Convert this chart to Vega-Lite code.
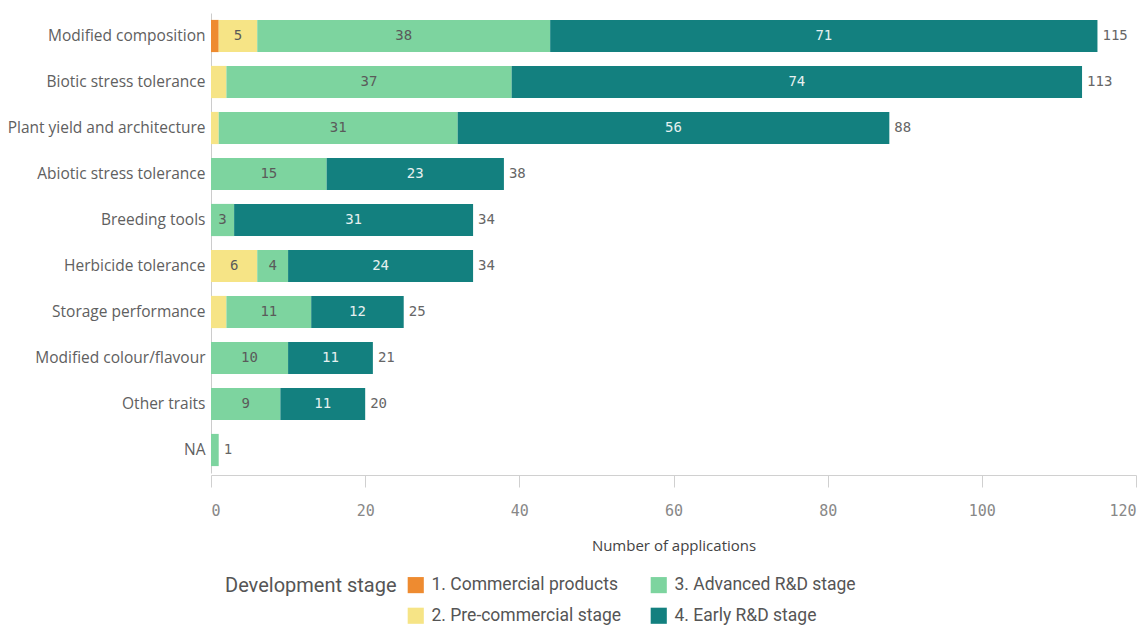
{
  "$schema": "https://vega.github.io/schema/vega-lite/v6.json",
  "width": 925,
  "height": 460,
  "autosize": {"type": "none"},
  "padding": {"left": 211, "top": 13, "right": 4, "bottom": 155},
  "background": "white",
  "config": {"view": {"stroke": null}},
  "data": {
    "values": [
      {"trait": "Modified composition", "stage": "1. Commercial products", "order": 1, "value": 1},
      {"trait": "Modified composition", "stage": "2. Pre-commercial stage", "order": 2, "value": 5},
      {"trait": "Modified composition", "stage": "3. Advanced R&D stage", "order": 3, "value": 38},
      {"trait": "Modified composition", "stage": "4. Early R&D stage", "order": 4, "value": 71},
      {"trait": "Biotic stress tolerance", "stage": "2. Pre-commercial stage", "order": 2, "value": 2},
      {"trait": "Biotic stress tolerance", "stage": "3. Advanced R&D stage", "order": 3, "value": 37},
      {"trait": "Biotic stress tolerance", "stage": "4. Early R&D stage", "order": 4, "value": 74},
      {"trait": "Plant yield and architecture", "stage": "2. Pre-commercial stage", "order": 2, "value": 1},
      {"trait": "Plant yield and architecture", "stage": "3. Advanced R&D stage", "order": 3, "value": 31},
      {"trait": "Plant yield and architecture", "stage": "4. Early R&D stage", "order": 4, "value": 56},
      {"trait": "Abiotic stress tolerance", "stage": "3. Advanced R&D stage", "order": 3, "value": 15},
      {"trait": "Abiotic stress tolerance", "stage": "4. Early R&D stage", "order": 4, "value": 23},
      {"trait": "Breeding tools", "stage": "3. Advanced R&D stage", "order": 3, "value": 3},
      {"trait": "Breeding tools", "stage": "4. Early R&D stage", "order": 4, "value": 31},
      {"trait": "Herbicide tolerance", "stage": "2. Pre-commercial stage", "order": 2, "value": 6},
      {"trait": "Herbicide tolerance", "stage": "3. Advanced R&D stage", "order": 3, "value": 4},
      {"trait": "Herbicide tolerance", "stage": "4. Early R&D stage", "order": 4, "value": 24},
      {"trait": "Storage performance", "stage": "2. Pre-commercial stage", "order": 2, "value": 2},
      {"trait": "Storage performance", "stage": "3. Advanced R&D stage", "order": 3, "value": 11},
      {"trait": "Storage performance", "stage": "4. Early R&D stage", "order": 4, "value": 12},
      {"trait": "Modified colour/flavour", "stage": "3. Advanced R&D stage", "order": 3, "value": 10},
      {"trait": "Modified colour/flavour", "stage": "4. Early R&D stage", "order": 4, "value": 11},
      {"trait": "Other traits", "stage": "3. Advanced R&D stage", "order": 3, "value": 9},
      {"trait": "Other traits", "stage": "4. Early R&D stage", "order": 4, "value": 11},
      {"trait": "NA", "stage": "3. Advanced R&D stage", "order": 3, "value": 1}
    ]
  },
  "encoding": {
    "y": {
      "field": "trait",
      "type": "nominal",
      "sort": ["Modified composition", "Biotic stress tolerance", "Plant yield and architecture", "Abiotic stress tolerance", "Breeding tools", "Herbicide tolerance", "Storage performance", "Modified colour/flavour", "Other traits", "NA"],
      "scale": {"paddingInner": 0.3, "paddingOuter": 0.15},
      "axis": {
        "title": null,
        "ticks": false,
        "labelFont": "Open Sans",
        "labelFontSize": 15.5,
        "labelColor": "#606060",
        "labelPadding": 6,
        "domainColor": "#cccccc",
        "labelLimit": 220
      }
    }
  },
  "layer": [
    {
      "mark": {"type": "bar"},
      "encoding": {
        "x": {
          "field": "value",
          "type": "quantitative",
          "stack": "zero",
          "scale": {"domain": [0, 120]},
          "axis": {
            "title": "Number of applications",
            "titleFont": "Open Sans",
            "titleFontSize": 15,
            "titleFontWeight": "normal",
            "titleColor": "#444444",
            "titlePadding": 20,
            "grid": false,
            "values": [0, 20, 40, 60, 80, 100, 120],
            "tickSize": 12,
            "tickColor": "#d0d0d0",
            "domainColor": "#d0d0d0",
            "labelFont": "DejaVu Sans Mono",
            "labelFontSize": 15,
            "labelColor": "#888888",
            "labelPadding": 16,
            "offset": 2
          }
        },
        "color": {
          "field": "stage",
          "type": "nominal",
          "scale": {
            "domain": ["1. Commercial products", "3. Advanced R&D stage", "2. Pre-commercial stage", "4. Early R&D stage"],
            "range": ["#ee8b30", "#7dd49f", "#f6e486", "#13807f"]
          },
          "legend": {
            "title": "Development stage",
            "orient": "none",
            "legendX": 14,
            "legendY": 563,
            "direction": "horizontal",
            "columns": 2,
            "titleOrient": "left",
            "titleAnchor": "start",
            "titleFont": "Roboto",
            "titleFontSize": 20,
            "titleFontWeight": "normal",
            "titleColor": "#555555",
            "titlePadding": 10,
            "labelFont": "Roboto",
            "labelFontSize": 17.5,
            "labelColor": "#555555",
            "labelOffset": 7,
            "symbolType": "square",
            "symbolSize": 260,
            "symbolStrokeWidth": 0,
            "rowPadding": 12,
            "columnPadding": 28,
            "gridAlign": "each",
            "labelLimit": 300
          }
        },
        "order": {"field": "order", "type": "quantitative"}
      }
    },
    {
      "transform": [
        {"stack": "value", "groupby": ["trait"], "sort": [{"field": "order"}], "as": ["x0", "x1"]},
        {"calculate": "(datum.x0 + datum.x1) / 2", "as": "mid"},
        {"filter": "datum.value >= 3"}
      ],
      "mark": {"type": "text", "font": "DejaVu Sans Mono", "fontSize": 14, "baseline": "middle", "align": "center"},
      "encoding": {
        "x": {"field": "mid", "type": "quantitative"},
        "text": {"field": "value", "type": "quantitative"},
        "color": {
          "condition": {"test": "datum.order == 4", "value": "#e6f0f0"},
          "value": "#5a5a5a"
        }
      }
    },
    {
      "transform": [
        {"aggregate": [{"op": "sum", "field": "value", "as": "total"}], "groupby": ["trait"]}
      ],
      "mark": {"type": "text", "font": "DejaVu Sans Mono", "fontSize": 14, "baseline": "middle", "align": "left", "dx": 5, "color": "#666666"},
      "encoding": {
        "x": {"field": "total", "type": "quantitative"},
        "text": {"field": "total", "type": "quantitative"}
      }
    }
  ]
}
